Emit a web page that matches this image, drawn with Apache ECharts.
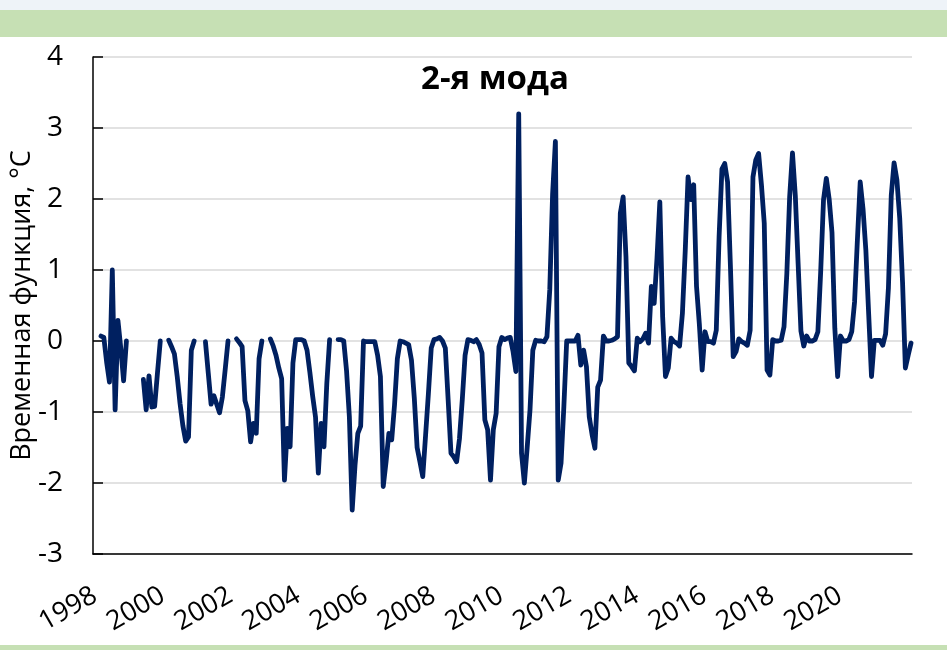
<!DOCTYPE html>
<html>
<head>
<meta charset="utf-8">
<script src="https://cdn.jsdelivr.net/npm/echarts@6/dist/echarts.min.js"></script>
<style>
  html, body { margin: 0; padding: 0; background: #fff; }
  #chart { width: 947px; height: 650px; }
</style>
</head>
<body>
<div id="chart"></div>
<script>
// monthly values, Jan 1998 .. Dec 2021 (null = no data)
const startYear = 1998;
const labelYears = [1998, 2000, 2002, 2004, 2006, 2008, 2010, 2012, 2014, 2016, 2018, 2020];
const values = [
  0.07, 0.05, -0.3, -0.58, 1.0, -0.97, 0.29, -0.1, -0.56, 0.0, null, null,          // 1998
  null, null, null, -0.54, -0.97, -0.49, -0.93, -0.92, -0.45, 0.0, null, null,      // 1999
  0.01, -0.08, -0.18, -0.5, -0.88, -1.19, -1.41, -1.35, -0.13, 0.0, null, null,     // 2000
  null, -0.01, -0.45, -0.89, -0.77, -0.89, -1.01, -0.79, -0.4, 0.0, null, null,     // 2001
  0.03, -0.02, -0.08, -0.84, -0.98, -1.42, -1.16, -1.3, -0.25, 0.0, null, null,     // 2002
  0.03, -0.07, -0.2, -0.38, -0.53, -1.96, -1.23, -1.49, -0.31, 0.02, 0.02, 0.02,    // 2003
  0.0, -0.13, -0.44, -0.78, -1.07, -1.86, -1.16, -1.49, -0.6, 0.02, null, null,     // 2004
  0.02, 0.02, 0.0, -0.42, -1.07, -2.38, -1.75, -1.3, -1.2, 0.0, -0.01, -0.01,       // 2005
  -0.01, -0.01, -0.2, -0.5, -2.05, -1.7, -1.3, -1.39, -0.9, -0.25, 0.0, -0.01,      // 2006
  -0.03, -0.05, -0.27, -0.8, -1.5, -1.7, -1.91, -1.33, -0.74, -0.1, 0.02, 0.03,     // 2007
  0.05, 0.0, -0.1, -0.83, -1.58, -1.63, -1.7, -1.38, -0.83, -0.2, 0.02, 0.01,       // 2008
  -0.01, 0.02, -0.05, -0.17, -1.11, -1.25, -1.96, -1.25, -1.02, -0.08, 0.05, 0.02,  // 2009
  0.04, 0.05, -0.15, -0.43, 3.2, -1.58, -2.0, -1.5, -0.97, -0.13, 0.01, 0.0,        // 2010
  0.0, -0.01, 0.06, 0.72, 2.06, 2.81, -1.96, -1.72, -0.92, 0.0, 0.0, 0.0,           // 2011
  0.0, 0.08, -0.34, -0.13, -0.36, -1.07, -1.32, -1.51, -0.65, -0.55, 0.07, 0.0,     // 2012
  0.0, 0.01, 0.03, 0.06, 1.8, 2.03, 1.19, -0.31, -0.36, -0.42, 0.04, -0.01,         // 2013
  0.03, 0.11, -0.03, 0.77, 0.53, 1.17, 1.96, 0.34, -0.5, -0.38, 0.04, -0.01,        // 2014
  -0.03, -0.07, 0.39, 1.27, 2.31, 1.99, 2.2, 0.77, 0.24, -0.41, 0.13, -0.01,        // 2015
  -0.01, -0.03, 0.15, 1.47, 2.42, 2.5, 2.24, 1.07, -0.22, -0.15, 0.03, -0.01,       // 2016
  -0.03, -0.06, 0.15, 2.31, 2.55, 2.64, 2.2, 1.66, -0.41, -0.48, 0.02, 0.0,         // 2017
  0.0, 0.01, 0.2, 0.95, 2.03, 2.65, 2.05, 1.09, 0.14, -0.07, 0.07, 0.0,             // 2018
  0.0, 0.02, 0.13, 0.98, 1.99, 2.29, 2.0, 1.53, 0.18, -0.5, 0.07, 0.0,              // 2019
  0.0, 0.02, 0.13, 0.55, 1.42, 2.24, 1.86, 1.28, 0.38, -0.5, 0.01, 0.01,            // 2020
  0.01, -0.06, 0.1, 0.75, 2.05, 2.51, 2.27, 1.73, 0.83, -0.38, -0.2, -0.03          // 2021
];

const font = '"Open Sans", "Noto Sans", sans-serif';
const chart = echarts.init(document.getElementById('chart'));

const points = values.map((v, i) => [i, v]);
const labelPos = labelYears.map(y => (y - startYear) * 12);

chart.setOption({
  animation: false,
  backgroundColor: '#fff',
  grid: { left: 93, right: 35, top: 57, bottom: 96, outerBoundsMode: 'none' },
  graphic: [
    { type: 'rect', shape: { x: 0, y: 0, width: 947, height: 10 }, style: { fill: '#eef3f8' }, silent: true },
    { type: 'rect', shape: { x: 0, y: 10, width: 947, height: 27 }, style: { fill: '#c6e0b4' }, silent: true },
    { type: 'rect', shape: { x: 0, y: 645, width: 947, height: 5 }, style: { fill: '#c6e0b4' }, silent: true },
    {
      type: 'text', x: 495, y: 80, z: 10,
      style: {
        text: '2-я мода', fill: '#000', font: 'bold 33px ' + font,
        textAlign: 'center', textVerticalAlign: 'middle'
      }
    }
  ],
  xAxis: [
    {
      type: 'value', min: -2.84, max: 287.35,
      axisLine: { show: false },
      axisTick: { show: false },
      splitLine: { show: false },
      axisLabel: {
        customValues: labelPos,
        formatter: v => String(startYear + Math.round(v / 12)),
        rotate: 30, align: 'right', verticalAlign: 'middle', margin: 36,
        padding: [0, 7, 0, 0],
        fontSize: 27, fontFamily: font, color: '#000'
      }
    },
    {
      // zero line
      type: 'value', min: -2.84, max: 287.35, position: 'bottom',
      axisLine: { show: true, onZero: true, lineStyle: { color: '#000', width: 1.5 } },
      axisTick: { show: false },
      axisLabel: { show: false },
      splitLine: { show: false }
    }
  ],
  yAxis: {
    type: 'value', min: -3, max: 4, interval: 1,
    name: 'Временная функция, °C',
    nameLocation: 'middle', nameGap: 57, nameMoveOverlap: false,
    nameTextStyle: { fontSize: 27, fontFamily: font, color: '#000' },
    axisLine: { show: true, onZero: false, lineStyle: { color: '#000', width: 1.5 } },
    axisTick: { show: true, inside: true, length: 10, lineStyle: { color: '#000', width: 1.5 } },
    axisLabel: { fontSize: 28, fontFamily: font, color: '#000', margin: 30 },
    splitLine: { show: true, lineStyle: { color: '#d9d9d9', width: 1.5 } }
  },
  series: [{
    type: 'line',
    xAxisIndex: 0,
    data: points,
    showSymbol: false,
    symbol: 'none',
    connectNulls: false,
    lineStyle: { color: '#002060', width: 4.8, cap: 'round', join: 'round' },
    z: 3
  }]
});
</script>
</body>
</html>
